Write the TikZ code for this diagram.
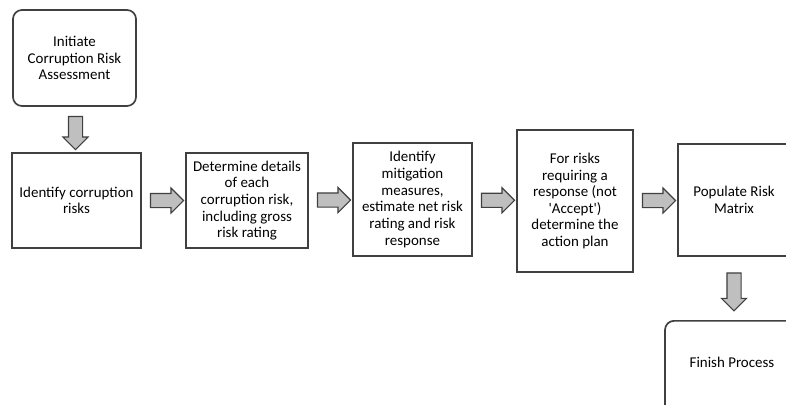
\documentclass[tikz,border=0pt]{standalone}
\usepackage{fontspec}
\setmainfont{Carlito}
\usetikzlibrary{shapes.arrows,calc}

\begin{document}
\begin{tikzpicture}[x=1bp, y=-1bp,
  stage/.style={draw=black!75, line width=1.7bp, align=center, inner sep=0pt,
    font=\fontsize{15}{16.7}\selectfont},
  terminal/.style={stage, rounded corners=9bp},
  flow/.style={single arrow, draw=black!75, fill=black!25, line width=1.1bp,
    inner sep=6.5bp, single arrow head extend=5.5bp, minimum height=33bp}]
\useasboundingbox (0,0) rectangle (786,404);
\clip (0,0) rectangle (786,404);

\node[terminal, minimum width=123bp, minimum height=96bp] (start) at (74.5,58) {Initiate\\Corruption Risk\\Assessment};

\node[stage, minimum width=129bp, minimum height=95bp] (ident) at (76.5,200.5) {Identify corruption\\risks};
\node[stage, minimum width=122bp, minimum height=95bp] (details) at (247,200.5) {Determine details\\of each\\corruption risk,\\including gross\\risk rating};
\node[stage, minimum width=119bp, minimum height=113bp] (mitig) at (412.5,199.5) {Identify\\mitigation\\measures,\\estimate net risk\\rating and risk\\response};
\node[stage, minimum width=116bp, minimum height=142bp] (plan) at (575,201) {For risks\\requiring a\\response (not\\\textquotesingle Accept\textquotesingle)\\determine the\\action plan};
\node[stage, minimum width=112bp, minimum height=112bp] (matrix) at (734,200) {Populate Risk\\Matrix};

% end box runs off the page
\node[terminal, minimum width=138bp, minimum height=100bp, anchor=north] (finish) at (734,320) {};
\node[font=\fontsize{15}{16.7}\selectfont] (finishtxt) at (732,362) {Finish Process};

% block arrows between the steps
\node[flow, shape border rotate=270] (a1) at ($(start.south)!0.5!(ident.north)$) {};
\node[flow] (a2) at ($(ident.east)!0.5!(details.west)$) {};
\node[flow] (a3) at ($(details.east)!0.5!(mitig.west)$) {};
\node[flow] (a4) at ($(mitig.east)!0.5!(plan.west)$) {};
\node[flow] (a5) at ($(plan.east)!0.5!(matrix.west)$) {};
\node[flow, shape border rotate=270, minimum height=38bp] (a6) at ($(matrix.south)!0.5!(finish.north)$) {};

\end{tikzpicture}
\end{document}
